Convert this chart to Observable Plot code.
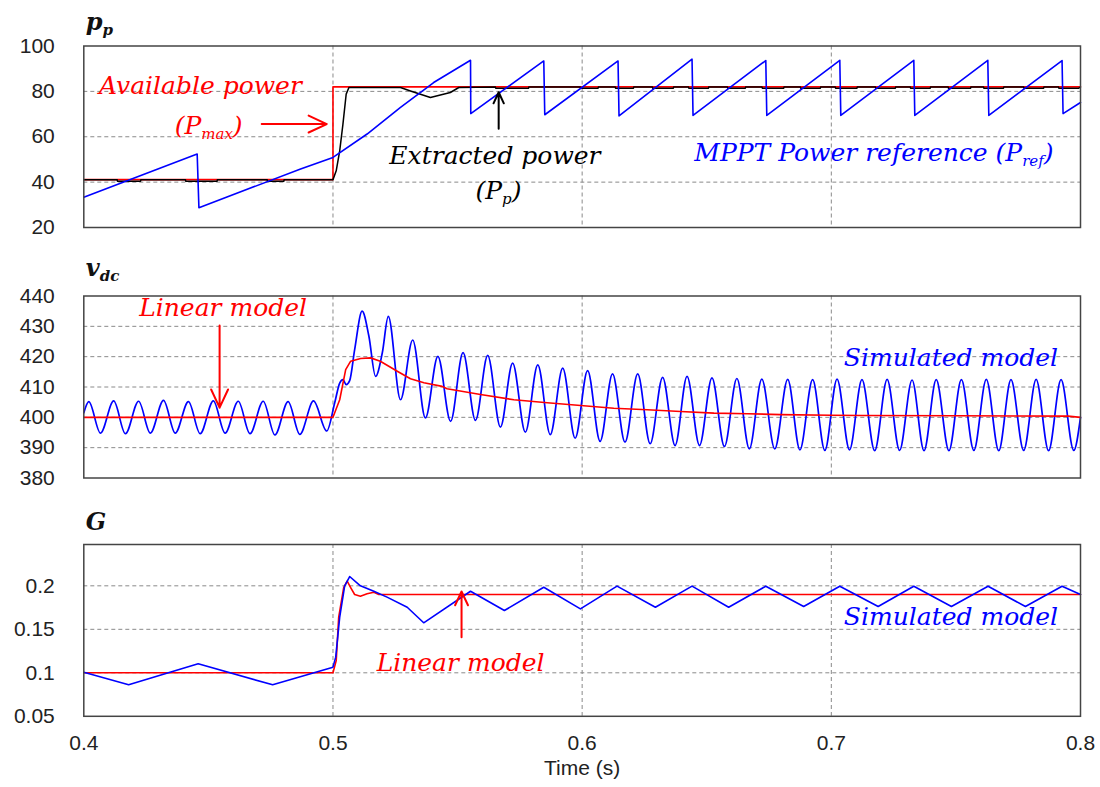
<!DOCTYPE html>
<html>
<head>
<meta charset="utf-8">
<script src="https://cdn.jsdelivr.net/npm/d3@7"></script>
<script src="https://cdn.jsdelivr.net/npm/@observablehq/plot@0.6"></script>
<style>
  html, body { margin: 0; padding: 0; background: #fff; }
  #wrap { position: relative; width: 1100px; height: 787px; background: #fff; }
  .panel { position: absolute; left: 0; }
</style>
</head>
<body>
<div id="wrap">
  <div class="panel" id="p1" style="top:0px"></div>
  <div class="panel" id="p2" style="top:250px"></div>
  <div class="panel" id="p3" style="top:500px"></div>
</div>
<script>
// ---------- tick labels ----------
const timeTicks = [0.4, 0.5, 0.6, 0.7, 0.8];
const ppTicks = [20, 40, 60, 80, 100];
const vdcTicks = [380, 390, 400, 410, 420, 430, 440];
const gTicks = [0.05, 0.1, 0.15, 0.2];

// ---------- panel 1: p_p ----------
const pmaxT = [0.4, 0.5, 0.5, 0.8];
const pmaxV = [41.1, 41.1, 82.0, 82.0];

const prefT = [0.4, 0.4455, 0.4462, 0.487, 0.5, 0.5137, 0.5271, 0.5404, 0.5552, 0.5553, 0.5846, 0.5850,
  0.6144, 0.6148, 0.6441, 0.6445, 0.6737, 0.6741, 0.7034, 0.7038, 0.7331, 0.7335, 0.7628, 0.7632, 0.7926, 0.7930, 0.8];
const prefV = [33.3, 52.4, 28.7, 45.8, 50.9, 61.2, 72.9, 83.9, 93.7, 70.2, 93.4, 69.7,
  93.4, 69.2, 94.2, 69.4, 93.6, 69.4, 93.7, 69.4, 93.7, 69.4, 93.7, 69.4, 93.6, 70.2, 75.1];

const ppT = [0.4, 0.4134, 0.4135, 0.4228, 0.4229, 0.4408, 0.4409, 0.4535, 0.4536, 0.4736, 0.4737, 0.4803, 0.4804, 0.5,
  0.5013, 0.5027, 0.5040, 0.5053, 0.5064, 0.5271, 0.5311, 0.5391, 0.5471, 0.5505,
  0.5652, 0.5653, 0.5785, 0.5786, 0.5993, 0.5994, 0.6064, 0.6065, 0.6133, 0.6134, 0.6206, 0.6207,
  0.6282, 0.6283, 0.6366, 0.6367, 0.6427, 0.6428, 0.6507, 0.6508, 0.6583, 0.6584, 0.6655, 0.6656,
  0.6722, 0.6723, 0.6809, 0.6810, 0.6876, 0.6877, 0.6956, 0.6957, 0.7016, 0.7017, 0.7103, 0.7104,
  0.7177, 0.7178, 0.7257, 0.7258, 0.7317, 0.7318, 0.7397, 0.7398, 0.7469, 0.7470, 0.7559, 0.7560,
  0.7611, 0.7612, 0.7691, 0.7692, 0.7772, 0.7773, 0.7852, 0.7853, 0.7912, 0.7913, 0.7993, 0.8];
const ppV = [41.1, 41.1, 40.4, 40.4, 41.1, 41.1, 40.4, 40.4, 41.1, 41.1, 40.4, 40.4, 41.1, 41.1,
  45.0, 53.8, 65.6, 78.8, 81.7, 81.7, 80.2, 77.3, 79.5, 81.7,
  81.9, 81.4, 81.4, 81.9, 81.9, 81.4, 81.4, 81.9, 81.9, 81.4, 81.4, 81.9,
  81.9, 81.4, 81.4, 81.9, 81.9, 81.4, 81.4, 81.9, 81.9, 81.4, 81.4, 81.9,
  81.9, 81.4, 81.4, 81.9, 81.9, 81.4, 81.4, 81.9, 81.9, 81.4, 81.4, 81.9,
  81.9, 81.4, 81.4, 81.9, 81.9, 81.4, 81.4, 81.9, 81.9, 81.4, 81.4, 81.9,
  81.9, 81.4, 81.4, 81.9, 81.9, 81.4, 81.4, 81.9, 81.9, 81.4, 81.4, 81.9];

// ---------- panel 2: v_dc ----------
const vdcLinT = [0.4, 0.5, 0.5027, 0.5051, 0.5071, 0.5111, 0.5151, 0.519, 0.5258, 0.5311, 0.5365, 0.5438,
  0.5458, 0.5592, 0.5726, 0.5860, 0.5994, 0.6127, 0.6261, 0.6395, 0.6529, 0.6663, 0.6797, 0.7, 0.7126, 0.75, 0.795, 0.8];
const vdcLinV = [400, 400, 405.8, 415.7, 418.5, 419.4, 419.6, 418.5, 415.2, 412.7, 411.4, 410.2,
  409.4, 407.5, 405.8, 404.8, 403.9, 403.0, 402.5, 401.9, 401.4, 401.2, 400.9, 400.7, 400.6, 400.5, 400.4, 400.0];

const vdcSimT = [0.4, 0.4020, 0.4067, 0.4120, 0.4167, 0.4220, 0.4267, 0.4320, 0.4367, 0.4420, 0.4467,
  0.4520, 0.4567, 0.4620, 0.4667, 0.4720, 0.4767, 0.4820, 0.4867, 0.4922, 0.4975,
  0.5007, 0.5027, 0.5040, 0.5053, 0.5067, 0.5087, 0.5117, 0.5144, 0.5171, 0.5198, 0.5222,
  0.5271, 0.5320, 0.5371, 0.5421, 0.5472, 0.5522, 0.5572, 0.5621, 0.5672, 0.5721, 0.5772, 0.5822,
  0.5872, 0.5922, 0.5972, 0.6022, 0.6072, 0.6122, 0.6172, 0.6223, 0.6273, 0.6323, 0.6373, 0.6421,
  0.6471, 0.6521, 0.6571, 0.6621, 0.6671, 0.6721, 0.6773, 0.6825, 0.6874, 0.6925, 0.6974, 0.7023,
  0.7073, 0.7123, 0.7174, 0.7224, 0.7274, 0.7324, 0.7372, 0.7421, 0.7472, 0.7522, 0.7572, 0.7622,
  0.7672, 0.7721, 0.7772, 0.7822, 0.7872, 0.7922, 0.7973, 0.8];
const vdcSimV = [401.5, 405.2, 394.8, 405.4, 394.6, 405.3, 394.8, 405.6, 394.8, 405.2, 394.6,
  405.4, 394.8, 405.3, 394.6, 405.3, 394.2, 405.2, 394.4, 405.4, 395.5,
  404.8, 411.3, 412.4, 410.8, 412.1, 422.3, 435.0, 426.8, 413.5, 421.3, 433.3,
  405.8, 425.5, 399.8, 420.1, 398.7, 421.3, 399.0, 420.4, 396.8, 417.9, 395.1, 417.3,
  394.3, 416.2, 393.1, 415.4, 392.1, 414.3, 391.8, 414.3, 391.3, 413.2, 390.7, 413.5,
  390.7, 413.0, 390.4, 412.8, 389.6, 412.6, 389.6, 412.5, 389.3, 412.4, 389.1, 412.6,
  389.3, 412.4, 389.0, 412.5, 389.1, 412.3, 389.0, 412.4, 389.0, 412.4, 389.1, 412.5,
  389.0, 412.4, 389.1, 412.5, 389.0, 412.4, 389.1, 400.0];

// ---------- panel 3: G ----------
const gLinT = [0.4, 0.5, 0.5013, 0.5023, 0.5043, 0.5057, 0.5071, 0.5087, 0.5110, 0.5137, 0.5164, 0.5184, 0.8];
const gLinV = [0.1, 0.1, 0.114, 0.164, 0.198, 0.2053, 0.198, 0.19, 0.188, 0.1908, 0.1927, 0.19, 0.19];

const gSimT = [0.4, 0.418, 0.4459, 0.4758, 0.5, 0.5011, 0.5027, 0.5047, 0.5067, 0.5110, 0.5164, 0.5217,
  0.5298, 0.5364, 0.5552, 0.5688, 0.5846, 0.5993, 0.6140, 0.6294, 0.6441, 0.6588, 0.6737, 0.6889,
  0.7034, 0.7188, 0.7331, 0.7482, 0.7629, 0.7779, 0.7926, 0.8];
const gSimV = [0.1007, 0.0862, 0.1103, 0.0862, 0.1065, 0.118, 0.164, 0.2, 0.2107, 0.200, 0.1938, 0.187,
  0.1754, 0.1575, 0.1938, 0.1716, 0.1984, 0.1735, 0.1996, 0.1754, 0.1996, 0.1754, 0.1995, 0.1762,
  0.1995, 0.1762, 0.1995, 0.1762, 0.1995, 0.1762, 0.1995, 0.19];

// ---------- helpers ----------
const zip = (T, V) => T.map((t, i) => ({t, v: V[i]}));
const BLUE = "#0000ff", RED = "#ff0000", BLACK = "#000000";
const SERIF = "DejaVu Serif, Liberation Serif, serif";
const GRID = {stroke: "#8a8a8a", strokeOpacity: 1, strokeDasharray: "4,3", strokeWidth: 1};

function baseMarks(yTicks, yGrid, fmt) {
  return [
    Plot.gridY(yGrid, GRID),
    Plot.gridX([0.5, 0.6, 0.7], GRID),
    Plot.axisY(yTicks, {tickSize: 0, tickPadding: 29, tickFormat: fmt, fill: "#222", fontSize: 21, label: null}),
  ];
}
function note(text, x, y, color, size = 25) {
  return Plot.text([text], {x, y, text: d => d, fill: color, fontFamily: SERIF, fontStyle: "italic", fontSize: size, textAnchor: "middle", lineAnchor: "middle"});
}
function title(text, dy) {
  return Plot.text([text], {frameAnchor: "top-left", text: d => d, dx: 2, dy, fill: "#111", lineAnchor: "middle",
    fontFamily: SERIF, fontStyle: "italic", fontWeight: "bold", fontSize: 24, textAnchor: "start"});
}
function arrow(x1, y1, x2, y2, color) {
  return Plot.arrow([0], {x1: () => x1, y1: () => y1, x2: () => x2, y2: () => y2, stroke: color, strokeWidth: 2, headLength: 15, headAngle: 50});
}
function subscripts(svg) {
  svg.querySelectorAll("text").forEach(t => {
    const s = t.textContent;
    if (!s.includes("_{")) return;
    const fs = parseFloat(getComputedStyle(t).fontSize) || 20;
    t.textContent = "";
    const parts = s.split(/(_\{[^}]*\})/).filter(p => p);
    let shifted = false;
    parts.forEach(p => {
      const ts = document.createElementNS("http://www.w3.org/2000/svg", "tspan");
      if (p.startsWith("_{")) {
        ts.textContent = p.slice(2, -1);
        ts.setAttribute("font-size", (fs * 0.75) + "px");
        ts.setAttribute("dy", (fs * 0.28) + "px");
        shifted = true;
      } else {
        ts.textContent = p;
        if (shifted) { ts.setAttribute("dy", (-fs * 0.28) + "px"); shifted = false; }
      }
      t.appendChild(ts);
    });
  });
  return svg;
}
const common = {
  width: 1100, marginLeft: 83.3, marginRight: 20,
  x: {domain: [0.4, 0.8], axis: null, label: null},
  style: {fontFamily: "Liberation Sans, Arial, sans-serif", fontSize: "21px", color: "#222", background: "#fff", overflow: "visible"}
};

// ---------- panel 1 ----------
const p1 = Plot.plot({
  ...common, height: 250, marginTop: 45.5, marginBottom: 23,
  y: {domain: [20, 100], axis: null, label: null},
  marks: [
    ...baseMarks(ppTicks, [40, 60, 80], d => String(d)),
    Plot.line(zip(pmaxT, pmaxV), {x: "t", y: "v", stroke: RED, strokeWidth: 1.6}),
    Plot.line(zip(ppT, ppV), {x: "t", y: "v", stroke: BLACK, strokeWidth: 1.5}),
    Plot.line(zip(prefT, prefV), {x: "t", y: "v", stroke: BLUE, strokeWidth: 1.6}),
    Plot.frame({stroke: "#444", strokeWidth: 1.5}),
    title("p_{p}", -24),
    note("Available power", 0.4468, 82.4, RED),
    note("(P_{max})", 0.4501, 64.8, RED),
    arrow(0.4714, 65.6, 0.4975, 65.6, RED),
    note("Extracted power", 0.565, 51.6, BLACK),
    note("(P_{p})", 0.5664, 36.3, BLACK),
    arrow(0.5665, 63.5, 0.5665, 79.6, BLACK),
    note("MPPT Power reference (P_{ref})", 0.7171, 53.0, BLUE),
  ]
});
document.getElementById("p1").appendChild(subscripts(p1));

// ---------- panel 2 ----------
const p2 = Plot.plot({
  ...common, height: 250, marginTop: 45.5, marginBottom: 22.5,
  y: {domain: [380, 440], axis: null, label: null},
  marks: [
    ...baseMarks(vdcTicks, [390, 400, 410, 420, 430], d => String(d)),
    Plot.line(zip(vdcSimT, vdcSimV), {x: "t", y: "v", stroke: BLUE, strokeWidth: 1.7, curve: "monotone-x"}),
    Plot.line(zip(vdcLinT, vdcLinV), {x: "t", y: "v", stroke: RED, strokeWidth: 1.6}),
    Plot.frame({stroke: "#444", strokeWidth: 1.5}),
    title("v_{dc}", -28),
    note("Linear model", 0.4559, 436.2, RED),
    arrow(0.4545, 430.3, 0.4545, 403.2, RED),
    note("Simulated model", 0.748, 419.7, BLUE),
  ]
});
document.getElementById("p2").appendChild(subscripts(p2));

// ---------- panel 3 ----------
const p3 = Plot.plot({
  ...common, height: 287, marginTop: 44, marginBottom: 71.2,
  y: {domain: [0.05, 0.2475], axis: null, label: null},
  marks: [
    ...baseMarks(gTicks, [0.1, 0.15, 0.2], d => String(d)),
    Plot.axisX(timeTicks, {tickSize: 0, tickPadding: 19, tickFormat: d => String(d), fill: "#222", fontSize: 21, label: null}),
    Plot.line(zip(gLinT, gLinV), {x: "t", y: "v", stroke: RED, strokeWidth: 1.6}),
    Plot.line(zip(gSimT, gSimV), {x: "t", y: "v", stroke: BLUE, strokeWidth: 1.6}),
    Plot.frame({stroke: "#444", strokeWidth: 1.5}),
    title("G", -22),
    note("Simulated model", 0.748, 0.1636, BLUE),
    note("Linear model", 0.5512, 0.1118, RED),
    arrow(0.5516, 0.1409, 0.5516, 0.1935, RED),
    Plot.text(["Time (s)"], {frameAnchor: "bottom", lineAnchor: "middle", text: d => d, dy: 52, fill: "#222", fontSize: 21})
  ]
});
document.getElementById("p3").appendChild(subscripts(p3));
</script>
</body>
</html>
